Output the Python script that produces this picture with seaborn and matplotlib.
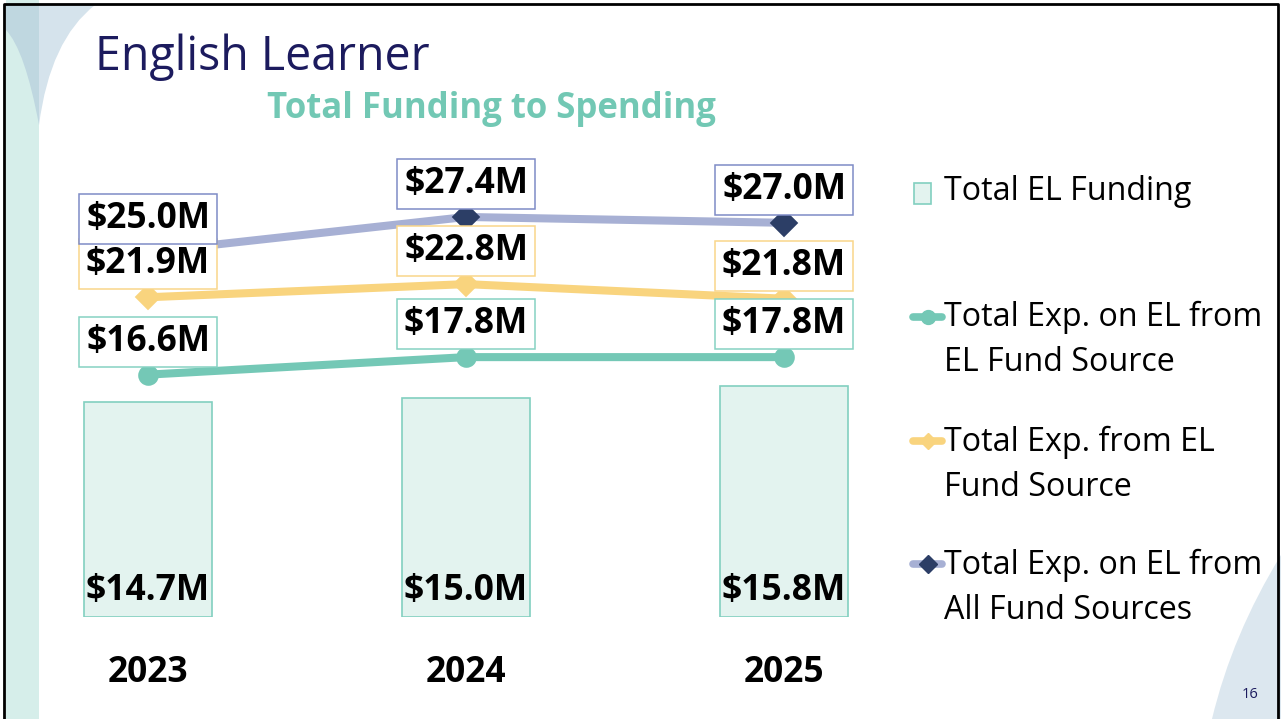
import numpy as np
import pandas as pd
import seaborn as sns
import matplotlib.pyplot as plt
from matplotlib.patches import Rectangle, PathPatch
from matplotlib.path import Path
from matplotlib.lines import Line2D

# values in $M
years = ['2023', '2024', '2025']
el_funding = [14.7, 15.0, 15.8]
exp_on_el_from_el = [16.6, 17.8, 17.8]
exp_from_el = [21.9, 22.8, 21.8]
exp_on_el_all = [25.0, 27.4, 27.0]

legend_labels = ['Total EL Funding',
                 'Total Exp. on EL from\nEL Fund Source',
                 'Total Exp. from EL\nFund Source',
                 'Total Exp. on EL from\nAll Fund Sources']

teal = '#74C8B6'
yellow = '#F9D47E'
lavender = '#A7B0D4'
navy = '#2C3E66'
bar_fill = '#E3F3EF'
bar_edge = '#82D0C0'

sns.set_theme(style='white')
plt.rcParams['font.family'] = ['Open Sans', 'DejaVu Sans']

W, H = 1281, 719
fig = plt.figure(figsize=(W / 100, H / 100), dpi=100)

# background layer in pixel coords: decorations, titles, legend
bg = fig.add_axes([0, 0, 1, 1], zorder=0)
bg.set_xlim(0, W)
bg.set_ylim(H, 0)
bg.axis('off')

bg.add_patch(Rectangle((6, 0), 33, H, color='#D6EEEA', lw=0))
# top-left curves
p = Path([(6, 5), (95, 5), (50, 40), (39, 125), (39, 5), (6, 5)],
         [Path.MOVETO, Path.LINETO, Path.CURVE3, Path.CURVE3, Path.LINETO, Path.CLOSEPOLY])
bg.add_patch(PathPatch(p, fc='#D5E3EC', lw=0))
p = Path([(6, 5), (39, 5), (39, 125), (25, 50), (6, 30), (6, 5)],
         [Path.MOVETO, Path.LINETO, Path.LINETO, Path.CURVE3, Path.CURVE3, Path.CLOSEPOLY])
bg.add_patch(PathPatch(p, fc='#BFD7E0', lw=0))
# bottom-right curve
p = Path([(1281, 555), (1232, 635), (1212, 719), (1281, 719), (1281, 555)],
         [Path.MOVETO, Path.CURVE3, Path.CURVE3, Path.LINETO, Path.CLOSEPOLY])
bg.add_patch(PathPatch(p, fc='#DCE7EF', lw=0))
# slide border
bg.plot([4, 4, 1278, 1278], [H, 4, 4, H], color='black', lw=2)

bg.text(95, 70, 'English Learner', fontsize=33.5, color='#1C1B5E',
        fontweight='normal', va='baseline', ha='left')
bg.text(491, 118, 'Total Funding to Spending', fontsize=25, color='#72C8B4',
        fontweight='bold', va='baseline', ha='center')
bg.text(1250, 694, '16', fontsize=10.5, color='#1C1B5E', ha='center', va='center')

# legend drawn by hand to keep the slide spacing
bg.add_patch(Rectangle((914, 183), 17, 21, fc=bar_fill, ec=bar_edge, lw=1.2))
bg.add_line(Line2D([913, 927.5, 942], [317, 317, 317], color=teal, lw=5.5, marker='o',
                   markersize=10, markevery=[1], solid_capstyle='round'))
bg.add_line(Line2D([913, 927.5, 942], [441, 441, 441], color=yellow, lw=5.5, marker='D',
                   markersize=8, markevery=[1], solid_capstyle='round'))
bg.add_line(Line2D([913, 927.5, 942], [564, 564, 564], color=lavender, lw=5.5, marker='D',
                   markersize=9, markevery=[1], markerfacecolor=navy,
                   markeredgecolor=navy, solid_capstyle='round'))
legend_y = [192, 340, 465, 588]
for lab, y in zip(legend_labels, legend_y):
    bg.text(944, y, lab, fontsize=23.2, color='black', ha='left', va='center',
            linespacing=1.5)

# main chart
ax = fig.add_axes([68.5 / W, (H - 617) / H, 795 / W, 438 / H], zorder=1)
ax.patch.set_alpha(0)

df = pd.DataFrame({'year': years, 'funding': el_funding,
                   'exp_el_el': exp_on_el_from_el, 'exp_el': exp_from_el,
                   'exp_all': exp_on_el_all})

sns.barplot(data=df, x='year', y='funding', color=bar_fill, edgecolor=bar_edge,
            linewidth=1.2, width=0.4, saturation=1, ax=ax, zorder=1)

series = [('exp_el_el', teal, 'o', 10.5, teal, '#86D2C2'),
          ('exp_el', yellow, 'D', 9, yellow, '#F9D68A'),
          ('exp_all', lavender, 'D', 10, navy, '#7F8CC6')]
for col, c, m, ms, mc, box in series:
    sns.pointplot(data=df, x='year', y=col, color=c, markers=m, errorbar=None,
                  ax=ax, linewidth=5.8, markersize=ms, zorder=3)
    ln = ax.lines[-1]
    ln.set_markerfacecolor(mc)
    ln.set_markeredgecolor(mc)
    ln.set_solid_capstyle('round')
    for i, v in enumerate(df[col]):
        ax.annotate(f'${v:.1f}M', (i, v), xytext=(0, 15), textcoords='offset pixels',
                    ha='center', va='bottom', fontsize=25.5, fontweight='bold',
                    color='black', zorder=5,
                    bbox=dict(boxstyle='square,pad=0.2', fc='white', ec=box, lw=1.1))

for i, v in enumerate(el_funding):
    ax.text(i, 1.75, f'${v:.1f}M', ha='center', va='center', fontsize=25.5,
            fontweight='bold', color='black', zorder=4)

ax.set_xlim(-0.25, 2.25)
ax.set_ylim(0, 30)
ax.set_xlabel('')
ax.set_ylabel('')
ax.set_yticks([])
ax.tick_params(axis='x', length=0, pad=27, labelsize=25.5, labelcolor='black')
for t in ax.get_xticklabels():
    t.set_fontweight('bold')
sns.despine(ax=ax, left=True, bottom=True)

fig.savefig('out.png', dpi=100)
